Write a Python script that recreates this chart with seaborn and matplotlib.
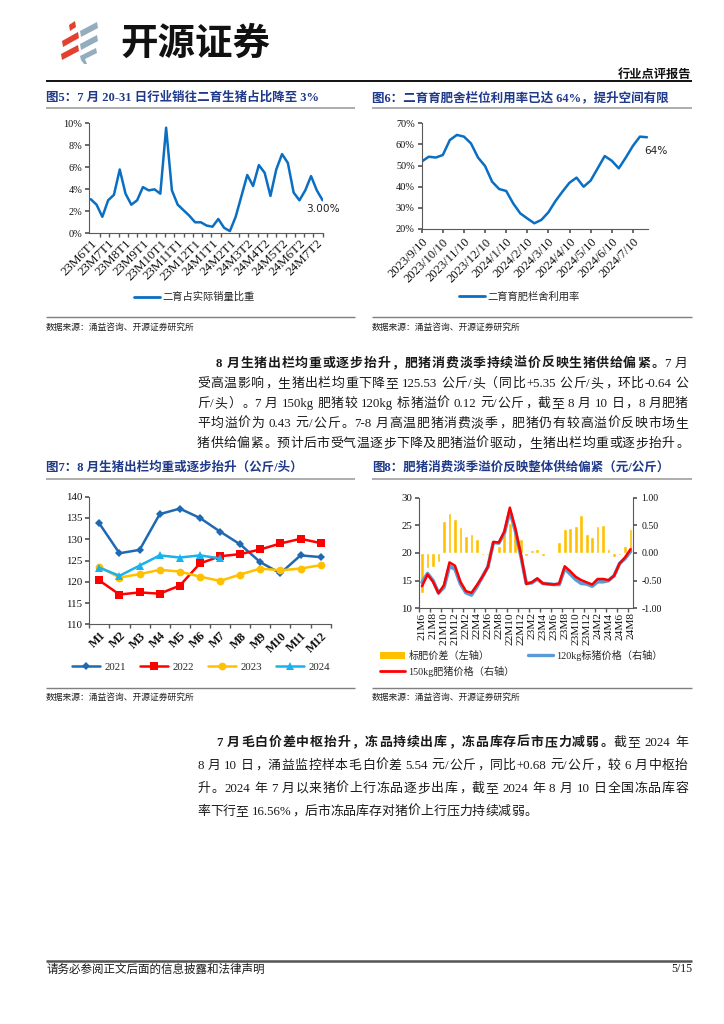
import numpy as np
import pandas as pd
import matplotlib
matplotlib.use("Agg")
import matplotlib.pyplot as plt
import seaborn as sns
from matplotlib.lines import Line2D
from matplotlib.patches import Polygon, Patch
from matplotlib.font_manager import FontProperties
import matplotlib.ticker as mticker

# ================= DATA =================
# Fig5: share of sales to secondary fattening (%), 10-day periods 23M6T1 .. 24M7T3
fig5_share = [3.1, 2.6, 1.5, 3.0, 3.5, 5.8, 3.6, 2.6, 3.0, 4.2, 3.9, 4.0, 3.6, 9.6,
              3.9, 2.6, 2.1, 1.6, 1.0, 1.0, 0.7, 0.6, 1.3, 0.5, 0.2, 1.5, 3.4, 5.3,
              4.3, 6.2, 5.5, 3.4, 5.8, 7.2, 6.4, 3.7, 3.0, 3.9, 5.2, 3.9, 3.0]
fig5_ticklabels = ['23M6T1', '23M7T1', '23M8T1', '23M9T1', '23M10T1', '23M11T1', '23M12T1',
                   '24M1T1', '24M2T1', '24M3T2', '24M4T2', '24M5T2', '24M6T2', '24M7T2']
fig5_series = '二育占实际销量比重'
fig5_last = '3.00%'

# Fig6: utilisation rate of fattening pens (%), every 10 days from 2023/9/10
fig6_rate = [51.9, 54.2, 53.8, 55.0, 62.1, 64.5, 63.7, 60.5, 53.8, 49.8, 42.4, 38.9,
             38.0, 32.1, 27.4, 25.0, 22.7, 24.3, 27.9, 33.2, 37.7, 41.9, 44.3, 40.0,
             42.9, 48.7, 54.5, 52.3, 48.7, 53.8, 59.3, 63.7, 63.4]
fig6_ticklabels = ['2023/9/10', '2023/10/10', '2023/11/10', '2023/12/10', '2024/1/10',
                   '2024/2/10', '2024/3/10', '2024/4/10', '2024/5/10', '2024/6/10', '2024/7/10']
fig6_series = '二育育肥栏舍利用率'
fig6_last = '64%'

# Fig7: average slaughter weight (kg/head)
fig7_months = ['M1', 'M2', 'M3', 'M4', 'M5', 'M6', 'M7', 'M8', 'M9', 'M10', 'M11', 'M12']
fig7_years = ['2021', '2022', '2023', '2024']
w2021 = [133.7, 126.7, 127.5, 135.9, 137.2, 135.0, 131.8, 128.8, 124.6, 122.0, 126.2, 125.8]
w2022 = [120.3, 117.0, 117.5, 117.2, 119.1, 124.3, 126.0, 126.5, 127.6, 129.0, 130.1, 129.1]
w2023 = [123.5, 121.0, 121.8, 122.8, 122.4, 121.2, 120.2, 121.7, 123.1, 122.7, 123.1, 123.9]
w2024 = [123.3, 121.4, 123.8, 126.2, 125.7, 126.2, 125.5]

# Fig8: monthly 21M6 .. 24M8
fig8_ticklabels = ['21M6', '21M8', '21M10', '21M12', '22M2', '22M4', '22M6', '22M8', '22M10', '22M12',
                   '23M2', '23M4', '23M6', '23M8', '23M10', '23M12', '24M2', '24M4', '24M6', '24M8']
fig8_spread = [-0.73, -0.27, -0.25, -0.16, 0.57, 0.73, 0.62, 0.47, 0.31, 0.35, 0.26, -0.04, -0.03,
               0.00, 0.13, 0.34, 0.55, 0.42, 0.25, -0.05, 0.05, 0.07, -0.05, -0.02, -0.02, 0.19,
               0.43, 0.45, 0.49, 0.69, 0.34, 0.29, 0.48, 0.51, 0.07, -0.07, -0.04, 0.13, 0.44]
fig8_p150 = [14.0, 16.1, 14.8, 12.7, 14.2, 18.3, 17.7, 14.8, 13.1, 12.8, 14.2, 15.7, 17.5,
             22.0, 21.9, 23.9, 28.2, 24.5, 19.8, 14.4, 14.7, 15.4, 14.5, 14.4, 14.3, 14.5,
             17.6, 16.7, 15.7, 15.1, 14.7, 14.3, 15.3, 15.3, 15.1, 15.9, 18.1, 19.2, 20.7]
fig8_p120 = [14.7, 16.3, 15.0, 12.8, 13.8, 17.6, 17.1, 14.4, 12.8, 12.4, 13.9, 15.7, 17.5,
             21.9, 21.8, 23.6, 27.6, 24.0, 19.5, 14.5, 14.6, 15.3, 14.5, 14.4, 14.3, 14.3,
             17.2, 16.2, 15.2, 14.5, 14.4, 14.0, 14.8, 14.8, 15.0, 15.9, 18.1, 19.0, 20.3]
fig8_labels = ['标肥价差（左轴）', '150kg肥猪价格（右轴）', '120kg标猪价格（右轴）']

# ================= STYLE =================
sns.set_theme(style="ticks")
plt.rcParams['font.family'] = ['Liberation Serif', 'Noto Sans CJK SC', 'DejaVu Sans']
plt.rcParams['axes.unicode_minus'] = False
plt.rcParams['axes.edgecolor'] = '#595959'
plt.rcParams['axes.linewidth'] = 0.8
plt.rcParams['xtick.color'] = '#595959'
plt.rcParams['ytick.color'] = '#595959'
plt.rcParams['xtick.labelcolor'] = '#111111'
plt.rcParams['ytick.labelcolor'] = '#111111'

W, H = 724, 1024
fig = plt.figure(figsize=(W / 100, H / 100), dpi=100)
fig.patch.set_facecolor('white')
renderer = fig.canvas.get_renderer()

TXT = '#1a1a1a'
NAVY = '#1F3A8A'
CJK = 'Noto Sans CJK SC'
LAT = 'Liberation Serif'
MIX = [LAT, CJK]


def X(px):
    return px / W


def Y(py):
    return 1 - py / H


def hline(y, x0, x1, color, lw):
    fig.add_artist(Line2D([X(x0), X(x1)], [Y(y), Y(y)], transform=fig.transFigure,
                          color=color, lw=lw, solid_capstyle='butt'))


def axes_px(l, t, r, b):
    return fig.add_axes([X(l), Y(b), (r - l) / W, (b - t) / H])


LEFT_P = set('，。、；：）')
RIGHT_P = set('（')


def text_line(y, x0, x1, segments, size=9.3, justify=True):
    em = size * 100 / 72
    toks = []
    for text, bold in segments:
        buf = ''
        for ch in text:
            if ch == ' ':
                if buf:
                    toks.append(('lat', buf, bold)); buf = ''
                toks.append(('sp', ' ', bold))
            elif ord(ch) < 128:
                buf += ch
            else:
                if buf:
                    toks.append(('lat', buf, bold)); buf = ''
                toks.append(('cjk', ch, bold))
        if buf:
            toks.append(('lat', buf, bold))
    widths, arts = [], []
    for kind, s, bold in toks:
        if kind == 'sp':
            widths.append(0.22 * em); arts.append(None)
        elif kind == 'cjk':
            widths.append(em); arts.append(None)
        else:
            t = fig.text(0, 0, s, fontsize=size, family=LAT,
                         fontweight='bold' if bold else 'normal', color=TXT)
            widths.append(t.get_window_extent(renderer).width); arts.append(t)
    gaps = len(toks) - 1
    extra = (x1 - x0 - sum(widths)) / gaps if (justify and gaps > 0) else 0.0
    base = Y(round(y + 0.36 * em))
    x = x0
    for (kind, s, bold), w, art in zip(toks, widths, arts):
        fw = 'bold' if bold else 'normal'
        if kind == 'cjk':
            prop = FontProperties(family=CJK, size=size, weight=fw)
            if s in LEFT_P:
                ha, xx = 'left', x + 0.08 * em
            elif s in RIGHT_P:
                ha, xx = 'right', x + w - 0.08 * em
            else:
                ha, xx = 'center', x + w / 2
            fig.text(X(xx), base, s, fontproperties=prop, ha=ha, va='baseline', color=TXT)
        elif kind == 'lat':
            art.set_position((X(x), base))
            art.set_va('baseline')
        x += w + extra


# ================= HEADER =================
red_parts = [[(69, 25), (75, 21), (76, 27), (70, 31)],
             [(62, 41), (78, 32), (79, 38), (63, 47)],
             [(61, 54), (78, 45), (79, 51), (62, 60)]]
grey_parts = [[(80, 31), (97, 22), (98, 28), (81, 37)],
              [(80, 44), (97, 35), (98, 41), (81, 50)],
              [(80, 56), (96, 48), (97, 53), (85, 59), (87, 64), (84, 64), (81, 60)]]
for pts in red_parts:
    fig.add_artist(Polygon([(X(a), Y(b)) for a, b in pts], closed=True,
                           transform=fig.transFigure, color='#E2412F', lw=0))
for pts in grey_parts:
    fig.add_artist(Polygon([(X(a), Y(b)) for a, b in pts], closed=True,
                           transform=fig.transFigure, color='#93ACBE', lw=0))
fig.text(X(120), Y(43), '开源证券', fontsize=27, fontweight='bold', family=CJK,
         va='center', ha='left', color='#111111')
fig.text(X(691), Y(74), '行业点评报告', fontsize=8.8, fontweight='bold', family=CJK,
         va='center', ha='right', color='#111111')
hline(81, 46, 692, '#111111', 1.4)

# ================= TITLES / SOURCES =================
def title(x, y, s):
    fig.text(X(x), Y(y), s, fontsize=9, fontweight='bold', family=MIX, color=NAVY,
             va='center', ha='left')


def source(x, y, s='数据来源：涌益咨询、开源证券研究所'):
    fig.text(X(x), Y(y), s, fontsize=6.3, family=CJK, color='#222222', va='center', ha='left')


title(46, 98, '图5：7 月 20-31 日行业销往二育生猪占比降至 3%')
title(372, 98, '图6：二育育肥舍栏位利用率已达 64%，提升空间有限')
hline(108, 46, 355, '#A0A0A0', 1.2)
hline(108, 372, 692, '#A0A0A0', 1.2)
hline(317, 46, 355, '#7F7F7F', 1.0)
hline(317, 372, 692, '#7F7F7F', 1.0)
source(46, 327)
source(372, 327)

title(46, 468, '图7：8 月生猪出栏均重或逐步抬升（公斤/头）')
title(372, 468, '图8：肥猪消费淡季溢价反映整体供给偏紧（元/公斤）')
hline(479, 46, 355, '#A0A0A0', 1.2)
hline(479, 372, 692, '#A0A0A0', 1.2)
hline(688, 46, 355, '#7F7F7F', 1.0)
hline(688, 372, 692, '#7F7F7F', 1.0)
source(46, 697)
source(372, 697)

# ================= FIG 5 =================
ax5 = axes_px(89.3, 123.3, 323.5, 233.3)
df5 = pd.DataFrame({'pos': np.arange(len(fig5_share)), 'share': fig5_share})
sns.lineplot(data=df5, x='pos', y='share', ax=ax5, color='#0A6EC2', lw=1.8)
ax5.set_xlim(-0.25, len(fig5_share) - 0.85)
ax5.set_ylim(0, 10)
ax5.set_yticks(np.arange(0, 10.1, 2))
ax5.yaxis.set_major_formatter(mticker.FormatStrFormatter('%d%%'))
ax5.set_xticks(np.arange(0, len(fig5_share), 3))
ax5.set_xticklabels(fig5_ticklabels, rotation=45, ha='right', va='top',
                    rotation_mode='anchor', fontsize=9.4)
ax5.set_xticks(np.linspace(0, len(fig5_share) - 1, 26), minor=True)
ax5.tick_params(axis='x', which='major', length=0, pad=3)
ax5.tick_params(axis='x', which='minor', length=3, direction='out')
ax5.tick_params(axis='y', length=3, labelsize=7.4, pad=2)
for s in ['top', 'right']:
    ax5.spines[s].set_visible(False)
ax5.set_xlabel(''); ax5.set_ylabel('')
ax5.annotate(fig5_last, xy=(len(fig5_share) - 1, fig5_share[-1]), xytext=(-16, -9),
             textcoords='offset pixels', fontsize=7.6, family='DejaVu Sans',
             ha='left', va='center', color='#222222')
ax5.legend(handles=[Line2D([], [], color='#0A6EC2', lw=2)], labels=[fig5_series],
           loc='center left', bbox_to_anchor=(X(134), Y(297)), bbox_transform=fig.transFigure,
           frameon=False, handlelength=2.5, handletextpad=0.3,
           borderpad=0, borderaxespad=0, prop={'family': CJK, 'size': 7.4})

# ================= FIG 6 =================
ax6 = axes_px(421.7, 123.3, 648, 229)
df6 = pd.DataFrame({'pos': np.arange(len(fig6_rate)), 'rate': fig6_rate})
sns.lineplot(data=df6, x='pos', y='rate', ax=ax6, color='#0A6EC2', lw=1.8)
ax6.set_xlim(0, len(fig6_rate) - 0.85)
ax6.set_ylim(20, 70)
ax6.set_yticks(np.arange(20, 70.1, 10))
ax6.yaxis.set_major_formatter(mticker.FormatStrFormatter('%d%%'))
ax6.set_xticks(np.arange(0, len(fig6_rate) - 1, 3))
ax6.set_xticklabels(fig6_ticklabels, rotation=45, ha='right', va='top',
                    rotation_mode='anchor', fontsize=9)
ax6.tick_params(axis='x', length=3, direction='out', pad=2)
ax6.tick_params(axis='y', length=3, labelsize=7.4, pad=2)
for s in ['top', 'right']:
    ax6.spines[s].set_visible(False)
ax6.set_xlabel(''); ax6.set_ylabel('')
ax6.annotate(fig6_last, xy=(len(fig6_rate) - 1, fig6_rate[-1]), xytext=(-3, -14),
             textcoords='offset pixels', fontsize=7.6, family='DejaVu Sans',
             ha='left', va='center', color='#222222')
ax6.legend(handles=[Line2D([], [], color='#0A6EC2', lw=2)], labels=[fig6_series],
           loc='center left', bbox_to_anchor=(X(459), Y(297)), bbox_transform=fig.transFigure,
           frameon=False, handlelength=2.5, handletextpad=0.3,
           borderpad=0, borderaxespad=0, prop={'family': CJK, 'size': 7.4})

# ================= FIG 7 =================
ax7 = axes_px(89.3, 496.7, 330.7, 624.3)
rows = []
for yr, vals in zip(fig7_years, [w2021, w2022, w2023, w2024]):
    for i, v in enumerate(vals):
        rows.append((i, v, yr))
df7 = pd.DataFrame(rows, columns=['pos', 'weight', 'year'])
pal7 = {'2021': '#1F69B3', '2022': '#FF0000', '2023': '#FFC000', '2024': '#19B2EE'}
mk7 = {'2021': 'D', '2022': 's', '2023': 'o', '2024': '^'}
ms7 = {'2021': 4.2, '2022': 5.6, '2023': 5.6, '2024': 5.6}
sns.lineplot(data=df7, x='pos', y='weight', hue='year', style='year', palette=pal7,
             markers=mk7, dashes=False, ax=ax7, lw=1.8, markeredgewidth=0, legend=False)
for line, yr in zip(ax7.lines, fig7_years):
    line.set_markersize(ms7[yr])
ax7.set_xlim(-0.5, 11.5)
ax7.set_ylim(110, 140)
ax7.set_yticks(np.arange(110, 140.1, 5))
ax7.set_xticks(np.arange(12))
ax7.set_xticklabels(fig7_months, rotation=45, ha='right', va='top', rotation_mode='anchor',
                    fontsize=8.6, fontweight='bold')
ax7.set_xticks(np.arange(-0.5, 12, 1), minor=True)
ax7.tick_params(axis='x', which='major', length=0, pad=4)
ax7.tick_params(axis='x', which='minor', length=3, direction='out')
ax7.tick_params(axis='y', length=3, labelsize=7.8, pad=2)
for s in ['top', 'right']:
    ax7.spines[s].set_visible(False)
ax7.set_xlabel(''); ax7.set_ylabel('')
h7 = [Line2D([], [], color=pal7[y], marker=mk7[y], markersize=ms7[y], lw=1.8,
             markeredgewidth=0) for y in fig7_years]
ax7.legend(handles=h7, labels=fig7_years, loc='center', bbox_to_anchor=(X(201), Y(667)),
           bbox_transform=fig.transFigure, ncol=4, frameon=False, fontsize=7.8,
           handlelength=2.6, columnspacing=1.3, handletextpad=0.4, borderpad=0, borderaxespad=0)

# ================= FIG 8 =================
ax8 = axes_px(419.3, 497.7, 633.3, 608.3)
df8 = pd.DataFrame({'pos': np.arange(len(fig8_spread)), 'spread': fig8_spread,
                    'p120': fig8_p120, 'p150': fig8_p150})
sns.barplot(data=df8, x='pos', y='spread', ax=ax8, color='#FFC000', saturation=1,
            width=0.68, native_scale=True)
ax8b = ax8.twinx()
sns.lineplot(data=df8, x='pos', y='p120', ax=ax8b, color='#5B9BD5', lw=2.6)
sns.lineplot(data=df8, x='pos', y='p150', ax=ax8b, color='#FF0000', lw=1.8)
ax8.set_xlim(-0.5, len(fig8_spread) - 0.5)
ax8.set_ylim(-1, 1)
ax8.set_yticks(np.arange(-1, 1.01, 0.5))
ax8.yaxis.set_major_formatter(mticker.FormatStrFormatter('%.2f'))
ax8.yaxis.tick_right()
ax8b.set_ylim(10, 30)
ax8b.set_yticks(np.arange(10, 30.1, 5))
ax8b.yaxis.tick_left()
ax8.set_xticks(np.arange(0, len(fig8_spread), 2))
ax8.set_xticklabels(fig8_ticklabels, rotation=90, ha='center', va='top', fontsize=8.2)
ax8.set_xticks(np.arange(-0.5, len(fig8_spread), 2), minor=True)
ax8.tick_params(axis='x', which='major', length=0, pad=3)
ax8.tick_params(axis='x', which='minor', length=3, direction='out')
ax8.tick_params(axis='y', length=3, labelsize=7.0, pad=3)
ax8b.tick_params(axis='y', length=3, labelsize=7.8, pad=2)
ax8.spines['top'].set_visible(False)
for s in ax8b.spines.values():
    s.set_visible(False)
for a in (ax8, ax8b):
    a.set_xlabel(''); a.set_ylabel('')
h8 = [Patch(facecolor='#FFC000', edgecolor='none'),
      Line2D([], [], color='#FF0000', lw=2),
      Line2D([], [], color='#5B9BD5', lw=2.4)]
ax8b.legend(handles=h8, labels=fig8_labels, ncol=2, loc='upper left',
            bbox_to_anchor=(X(380), Y(650)), bbox_transform=fig.transFigure, frameon=False,
            handlelength=2.5, columnspacing=1.3, labelspacing=0.45, handletextpad=0.3,
            borderpad=0, borderaxespad=0, prop={'family': MIX, 'size': 7.3})

# ================= BODY TEXT =================
L, L1, R = 197, 216, 688
p1 = [
    [('8 月生猪出栏均重或逐步抬升，肥猪消费淡季持续溢价反映生猪供给偏紧。', True), ('7 月', False)],
    [('受高温影响，生猪出栏均重下降至 125.53 公斤/头（同比+5.35 公斤/头，环比-0.64 公', False)],
    [('斤/头）。7 月 150kg 肥猪较 120kg 标猪溢价 0.12 元/公斤，截至 8 月 10 日，8 月肥猪', False)],
    [('平均溢价为 0.43 元/公斤。7-8 月高温肥猪消费淡季，肥猪仍有较高溢价反映市场生', False)],
    [('猪供给偏紧。预计后市受气温逐步下降及肥猪溢价驱动，生猪出栏均重或逐步抬升。', False)],
]
for i, segs in enumerate(p1):
    text_line(362 + 20.2 * i, L1 if i == 0 else L, R, segs)

p2 = [
    [('7 月毛白价差中枢抬升，冻品持续出库，冻品库存后市压力减弱。', True), ('截至 2024 年', False)],
    [('8 月 10 日，涌益监控样本毛白价差 5.54 元/公斤，同比+0.68 元/公斤，较 6 月中枢抬', False)],
    [('升。2024 年 7 月以来猪价上行冻品逐步出库，截至 2024 年 8 月 10 日全国冻品库容', False)],
    [('率下行至 16.56%，后市冻品库存对猪价上行压力持续减弱。', False)],
]
for i, segs in enumerate(p2):
    text_line(741 + 23 * i, L1 if i == 0 else L, R, segs, justify=(i < 3))

# ================= FOOTER =================
hline(961, 46, 692, '#555555', 1.8)
fig.text(X(46), Y(969), '请务必参阅正文后面的信息披露和法律声明', fontsize=8.3, family=CJK,
         color=TXT, va='center', ha='left')
fig.text(X(692), Y(969), '5/15', fontsize=8.5, family=LAT, color=TXT, va='center', ha='right')

fig.savefig('out.png', dpi=100, facecolor='white')
